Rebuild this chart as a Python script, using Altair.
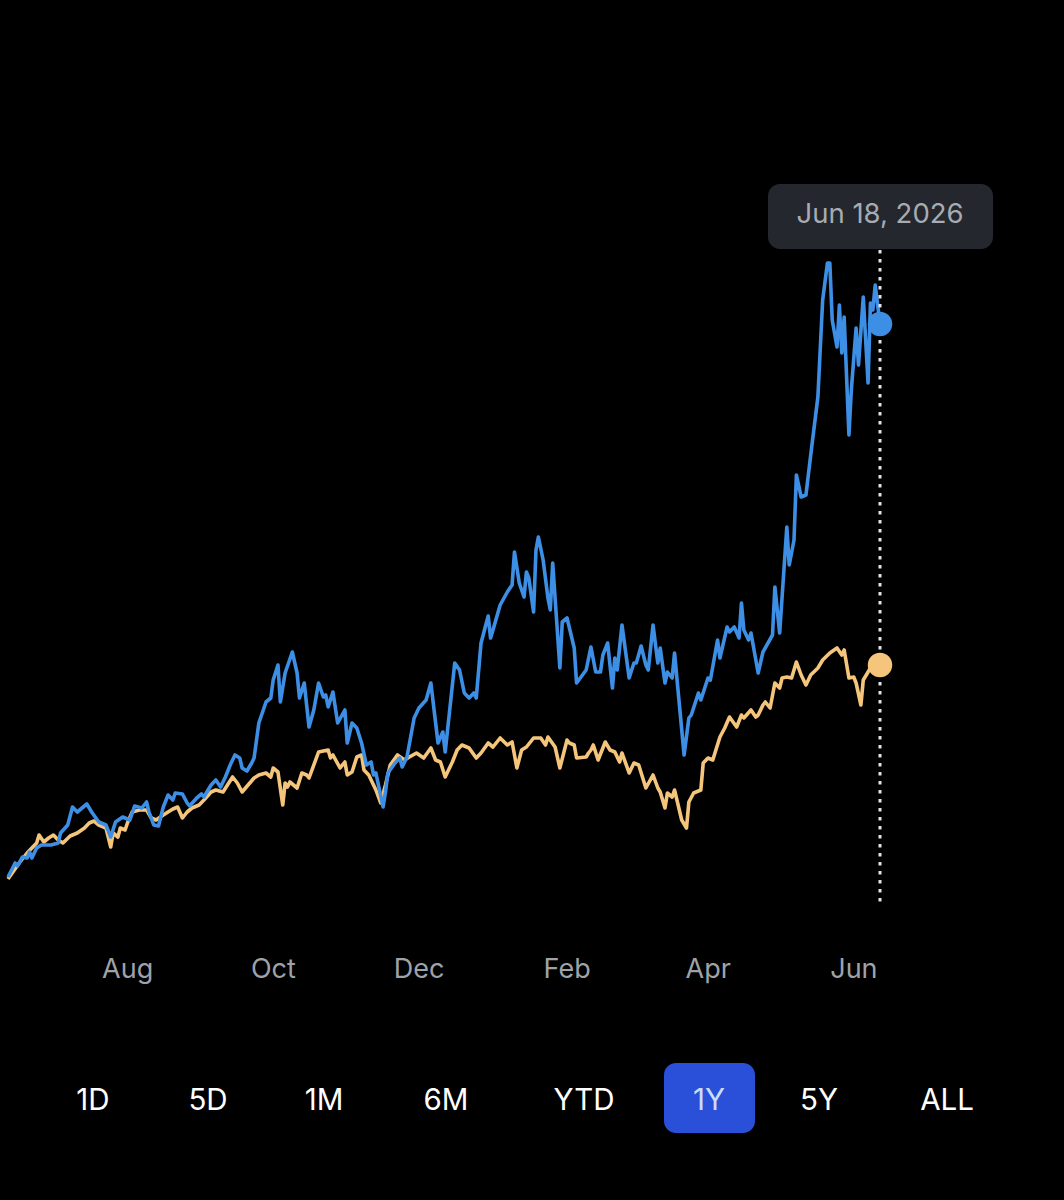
import altair as alt
import pandas as pd

# ---------------- data ----------------
START = "2025-06-18"

# stock (blue): days since start, % change
blue_days = [0, 3, 4, 6, 8, 9, 10, 12, 14, 18, 21, 22, 25, 27, 29, 33, 35, 38, 39, 41,
             43, 45, 48, 49, 51, 53, 56, 58, 59, 61, 63, 65, 67, 69, 70, 73, 75, 76, 79, 81,
             82, 85, 87, 89, 91, 93, 95, 97, 98, 100, 102, 103, 105, 108, 110, 111, 113, 114, 116, 119,
             121, 122, 124, 126, 128, 130, 132, 133, 134, 136, 138, 141, 142, 144, 146, 148, 150, 152, 153, 154,
             157, 158, 159, 162, 164, 165, 167, 170, 172, 175, 177, 180, 182, 183, 187, 189, 191, 193, 195, 196,
             198, 201, 202, 203, 206, 209, 211, 212, 214, 216, 217, 218, 220, 221, 222, 224, 226, 227, 228, 231,
             232, 234, 237, 238, 242, 244, 246, 248, 249, 251, 253, 254, 255, 257, 260, 262, 263, 265, 267, 268,
             270, 272, 273, 275, 276, 278, 279, 283, 285, 286, 289, 290, 293, 294, 297, 298, 301, 302, 304, 306,
             307, 308, 310, 311, 314, 316, 320, 321, 323, 326, 327, 329, 330, 332, 334, 336, 339, 341, 343, 344,
             345, 347, 348, 349, 350, 352, 353, 355, 356, 358, 360, 361, 362, 363, 365]
blue_vals = [0.1, 1.5, 1.2, 2.1, 2.0, 2.6, 2.0, 3.0, 3.3, 3.3, 3.5, 4.5, 5.3, 7.1, 6.6, 7.4, 6.6, 5.6, 5.5, 5.3,
             4.1, 5.6, 6.1, 6.0, 5.8, 7.2, 7.0, 7.6, 6.6, 5.3, 5.2, 7.1, 8.3, 7.8, 8.5, 8.4, 7.5, 7.2, 8.0, 8.4,
             8.1, 9.3, 9.8, 9.1, 10.1, 11.3, 12.3, 12.0, 11.0, 10.7, 11.5, 12.0, 15.5, 17.6, 18.0, 19.8, 21.3, 17.6, 20.5, 22.6,
             20.5, 18.0, 19.5, 15.1, 16.8, 19.5, 18.1, 18.3, 17.1, 18.6, 15.5, 16.8, 13.5, 15.5, 15.0, 13.5, 11.3, 11.6, 10.3, 10.5,
             7.1, 8.6, 10.5, 11.5, 12.0, 11.1, 12.1, 16.0, 17.0, 17.8, 19.5, 13.5, 14.6, 12.6, 21.5, 20.8, 18.5, 18.0, 18.5, 18.0,
             23.5, 26.2, 24.0, 24.8, 27.3, 28.6, 29.3, 32.6, 29.5, 28.1, 30.6, 30.0, 26.6, 32.8, 34.1, 31.8, 28.0, 26.8, 31.5, 21.0,
             25.6, 26.0, 23.0, 19.5, 20.8, 23.1, 20.6, 20.6, 22.3, 23.5, 19.0, 22.0, 20.8, 25.3, 20.0, 21.5, 21.5, 23.2, 21.3, 20.8,
             25.3, 21.5, 23.0, 19.5, 20.6, 20.0, 22.5, 12.3, 16.0, 16.3, 18.5, 17.8, 20.0, 19.8, 23.8, 22.0, 25.1, 24.6, 25.1, 24.0,
             27.5, 24.8, 23.8, 24.5, 20.5, 22.6, 24.3, 29.1, 24.5, 35.1, 31.3, 33.8, 40.3, 38.1, 38.3, 42.3, 48.1, 57.8, 61.5, 61.5,
             55.8, 53.1, 57.3, 52.5, 56.1, 44.3, 48.8, 55.0, 51.3, 58.1, 49.5, 57.5, 56.8, 59.3, 55.4]

# index (gold): days since start, % change
gold_days = [0, 5, 8, 10, 12, 13, 15, 17, 19, 21, 23, 26, 29, 32, 34, 36, 38, 41, 43, 44,
             46, 47, 49, 50, 52, 55, 58, 60, 62, 65, 67, 69, 71, 73, 75, 77, 80, 82, 85, 87,
             90, 94, 96, 98, 103, 105, 108, 110, 111, 113, 115, 116, 117, 118, 121, 123, 125, 126, 130, 134,
             135, 136, 139, 141, 142, 144, 146, 148, 149, 151, 154, 156, 158, 160, 163, 166, 168, 171, 174, 177,
             179, 181, 183, 186, 188, 190, 193, 196, 198, 201, 203, 206, 209, 211, 213, 215, 217, 220, 223, 225,
             226, 229, 231, 234, 235, 237, 238, 242, 243, 244, 245, 247, 250, 252, 254, 256, 257, 260, 262, 264,
             267, 270, 272, 273, 275, 276, 278, 279, 282, 284, 285, 287, 290, 291, 293, 295, 298, 300, 302, 305,
             307, 308, 311, 313, 314, 316, 317, 319, 321, 323, 324, 326, 328, 330, 332, 334, 336, 339, 341, 344,
             347, 349, 350, 352, 354, 355, 357, 358, 360, 362, 364, 365]
gold_vals = [-0.1, 1.6, 2.5, 3.0, 3.5, 4.3, 3.6, 4.0, 4.3, 3.8, 3.5, 4.2, 4.5, 5.0, 5.5, 5.7, 5.3, 5.0, 3.1, 4.5,
             4.1, 5.0, 4.8, 5.5, 6.6, 6.8, 6.8, 6.0, 5.8, 6.3, 6.6, 6.9, 7.1, 6.0, 6.6, 7.0, 7.3, 7.8, 8.6, 8.8,
             8.6, 10.1, 9.5, 8.6, 10.0, 10.3, 10.5, 10.1, 11.0, 10.6, 7.3, 9.5, 9.1, 9.6, 9.0, 10.5, 10.3, 10.0, 12.6, 12.8,
             12.0, 12.3, 11.0, 11.6, 10.3, 10.6, 12.1, 12.3, 10.8, 10.3, 8.8, 7.5, 9.3, 11.3, 12.3, 11.8, 12.1, 12.5, 12.0, 13.0,
             11.8, 11.6, 10.1, 11.6, 12.8, 13.3, 13.0, 12.0, 12.5, 13.5, 13.1, 14.0, 13.3, 13.6, 11.0, 12.8, 13.1, 14.0, 14.0, 13.3,
             14.1, 13.1, 11.0, 13.8, 13.5, 13.3, 12.0, 12.1, 12.5, 12.8, 13.3, 11.8, 13.6, 12.8, 12.6, 11.6, 12.5, 10.5, 11.5, 11.3,
             9.0, 10.3, 9.0, 8.6, 7.0, 8.5, 8.1, 8.8, 5.8, 5.0, 7.6, 8.5, 8.8, 11.5, 12.0, 11.8, 14.1, 15.0, 16.1, 15.1,
             16.3, 16.0, 16.8, 16.1, 16.3, 17.3, 17.6, 17.0, 19.5, 19.0, 20.0, 20.1, 20.0, 21.6, 20.3, 19.3, 20.3, 21.0, 21.8, 22.5,
             23.0, 22.3, 22.8, 20.0, 20.1, 19.5, 17.3, 19.8, 20.6, 21.5, 20.8, 21.3]

axis_months = [(2025, 8), (2025, 10), (2025, 12), (2026, 2), (2026, 4), (2026, 6)]
range_labels = ["1D", "5D", "1M", "6M", "YTD", "1Y", "5Y", "ALL"]
active_range = "1Y"

# ---------------- layout / style ----------------
W, H, BOTTOM = 1064, 950, 250
BUTTON_X = [93, 208, 324, 446, 584, 709, 819, 947]
BLUE, GOLD = "#3d8fe6", "#f4c57b"
FONT = "Inter"

start = pd.Timestamp(START)
blue = pd.DataFrame({"date": start + pd.to_timedelta(blue_days, unit="D"), "v": blue_vals})
gold = pd.DataFrame({"date": start + pd.to_timedelta(gold_days, unit="D"), "v": gold_vals})
end_date = blue["date"].iloc[-1]
ends = pd.DataFrame({
    "date": [end_date, end_date],
    "v": [blue_vals[-1], gold_vals[-1]],
    "s": ["blue", "gold"],
})
tip = pd.DataFrame({"date": [end_date], "label": [f"{end_date:%b} {end_date.day}, {end_date.year}"]})
buttons = pd.DataFrame({"label": range_labels, "bx": BUTTON_X})

x_scale = alt.Scale(
    domain=[alt.DateTime(year=2025, month=6, date=18), alt.DateTime(year=2026, month=6, date=18)],
    range=[8, 880],
)
x_axis = alt.Axis(
    values=[alt.DateTime(year=y, month=m, date=1) for y, m in axis_months],
    format="%b", labelOffset=14, labelFontSize=27, labelColor="#9ea3a9", labelFont=FONT,
    labelPadding=6, domain=False, ticks=False, grid=False, title=None,
    labelOverlap=False, labelFlush=False,
)
X = alt.X("date:T", scale=x_scale, axis=x_axis)
y_scale = alt.Scale(domain=[0, 60], range=[878, 278], zero=False)
Y = alt.Y("v:Q", scale=y_scale, axis=None)

gold_line = alt.Chart(gold).mark_line(color=GOLD, strokeWidth=3.6, strokeJoin="round").encode(x=X, y=Y)
blue_line = alt.Chart(blue).mark_line(color=BLUE, strokeWidth=3.6, strokeJoin="round").encode(x=X, y=Y)

rule = alt.Chart(tip).mark_rule(color="#e4e4e4", strokeWidth=3, strokeDash=[3.5, 5.5]).encode(
    x=X, y=alt.value(250), y2=alt.value(903)
)

dots = alt.Chart(ends).mark_circle(size=600, opacity=1).encode(
    x=X, y=Y,
    color=alt.Color("s:N", scale=alt.Scale(domain=["blue", "gold"], range=[BLUE, GOLD]), legend=None),
)

tip_box = alt.Chart(tip).mark_rect(color="#24272d", cornerRadius=12).encode(
    x=alt.value(768), x2=alt.value(993), y=alt.value(184), y2=alt.value(249)
)
tip_text = alt.Chart(tip).mark_text(
    font=FONT, fontSize=27.5, color="#a7acb2", align="center", baseline="middle"
).encode(x=X, y=alt.value(215), text="label:N")

ai = range_labels.index(active_range)
btn_box = alt.Chart(buttons[buttons["label"] == active_range]).mark_rect(
    color="#2a4fd8", cornerRadius=12
).encode(
    x=alt.value(BUTTON_X[ai] - 45), x2=alt.value(BUTTON_X[ai] + 46),
    y=alt.value(1063), y2=alt.value(1133),
)
btn_text = alt.Chart(buttons).mark_text(
    font=FONT, fontSize=29.5, align="center", baseline="middle"
).encode(
    x=alt.X("bx:Q", scale=None, axis=None),
    y=alt.value(1101),
    text="label:N",
    color=alt.condition(f"datum.label == '{active_range}'", alt.value("#c9ddff"), alt.value("#ffffff")),
)

chart = alt.layer(
    gold_line, blue_line, rule, dots, tip_box, tip_text, btn_box, btn_text
).properties(
    width=W, height=H,
    autosize=alt.AutoSizeParams(type="none"),
    padding={"left": 0, "top": 0, "right": 0, "bottom": BOTTOM},
    background="#000000",
).configure_view(strokeWidth=0)

chart.save("out.html", embed_options={"renderer": "svg", "actions": False})
